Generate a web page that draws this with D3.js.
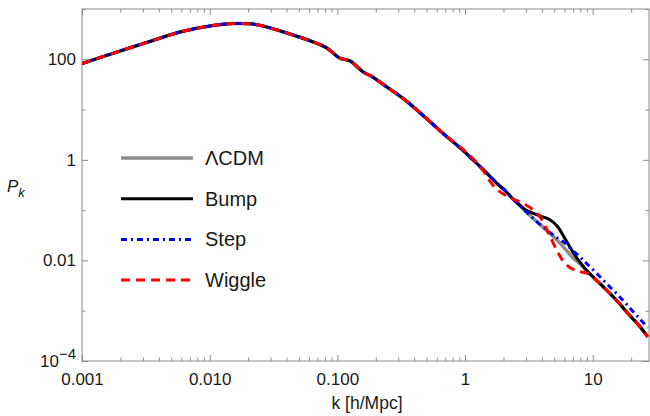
<!DOCTYPE html>
<html>
<head>
<meta charset="utf-8">
<title>P_k</title>
<script src="https://cdn.jsdelivr.net/npm/d3@7"></script>
<style>
  body { margin: 0; background: #fff; }
  svg { font-family: "Liberation Sans", Arial, sans-serif; }
  .tick text { fill: #1a1a1a; font-size: 17px; }
  .tick line { stroke: #8a8a8a; }
</style>
</head>
<body>
<script>
// wavenumbers k [h/Mpc]
var kVals = [0.001, 0.00175, 0.00323, 0.00585, 0.0106, 0.0152, 0.0207, 0.0248, 0.0375, 0.0692,
  0.083, 0.1047, 0.1255, 0.159, 0.19, 0.244, 0.326, 0.468, 0.672, 0.964,
  1.155, 1.383, 1.57, 1.78, 2.057, 2.334, 2.7, 3.0, 3.4, 3.9,
  4.6, 5.3, 6.0, 7.0, 8.0, 9.0, 11, 13, 16, 19, 23, 27];

var pLCDM = [81.9, 131.4, 216.8, 347.8, 468.8, 513.8, 506.8, 473.2, 352.7, 207.0,
  166.9, 105.4, 93.1, 56.2, 44.1, 28.2, 16.8, 7.69, 3.37, 1.54,
  0.998, 0.645, 0.468, 0.339, 0.246, 0.174, 0.1236, 0.0938, 0.0695, 0.0509,
  0.0348, 0.0248, 0.01754, 0.01135, 0.00842, 0.00625, 0.00377, 0.00249, 0.00144, 0.000867, 0.000512, 0.000302];

var pBump = [81.9, 131.4, 216.8, 347.8, 468.8, 513.8, 506.8, 473.2, 352.7, 207.0,
  166.9, 105.4, 93.1, 56.2, 44.1, 28.2, 16.8, 7.69, 3.37, 1.54,
  0.998, 0.645, 0.468, 0.339, 0.246, 0.174, 0.1236, 0.1005, 0.0875, 0.0762,
  0.065, 0.0471, 0.0284, 0.01459, 0.00902, 0.00625, 0.00377, 0.00249, 0.00144, 0.000867, 0.000512, 0.000302];

var pStep = [81.9, 131.4, 216.8, 347.8, 468.8, 513.8, 506.8, 473.2, 352.7, 207.0,
  166.9, 105.4, 93.1, 56.2, 44.1, 28.2, 16.8, 7.69, 3.37, 1.54,
  0.998, 0.645, 0.468, 0.339, 0.246, 0.174, 0.1236, 0.0938, 0.0695, 0.0509,
  0.0366, 0.0278, 0.0226, 0.01564, 0.01161, 0.00861, 0.0052, 0.00336, 0.00198, 0.001225, 0.000722, 0.000456];

var pWiggle = [81.9, 131.4, 216.8, 347.8, 468.8, 513.8, 506.8, 473.2, 352.7, 207.0,
  166.9, 105.4, 93.1, 56.2, 44.1, 28.2, 16.8, 7.69, 3.37, 1.61,
  1.045, 0.616, 0.372, 0.258, 0.2, 0.17, 0.145, 0.1264, 0.1028, 0.0711,
  0.0311, 0.01493, 0.00902, 0.00668, 0.00597, 0.00557, 0.00377, 0.00249, 0.00144, 0.000867, 0.000512, 0.000302];

var seriesNames = ["\u039bCDM", "Bump", "Step", "Wiggle"];

var xMajor = [0.001, 0.01, 0.1, 1, 10];
var xMajorLabels = ["0.001", "0.010", "0.100", "1", "10"];
var yMajor = [1e-4, 0.01, 1, 100];
var yMajorLabels = ["10-4", "0.01", "1", "100"];
var yMinor = [0.001, 0.1, 10, 1000];

var width = 650, height = 416,
    mLeft = 82, mRight = 649, mTop = 9, mBottom = 361;

var x = d3.scaleLog().domain([0.001, 27.6]).range([mLeft, mRight]);
var y = d3.scaleLog().domain([1e-4, 1e3]).range([mBottom, mTop]);

var xMinor = [];
[0.001, 0.01, 0.1, 1, 10].forEach(function(d){
    for (var i = 2; i <= 9; i++) { if (d * i < 27.6) xMinor.push(d * i); }
});

var styles = [
    {color: "#8c8c8c", w: 3.5, dash: null},
    {color: "#000000", w: 3, dash: null},
    {color: "#0000ff", w: 3, dash: "6,4,2,4"},
    {color: "#ff0000", w: 3, dash: "9,6"}
];
var seriesVals = [pLCDM, pBump, pStep, pWiggle];

var series = seriesNames.map(function(name, i){
    return {name: name, style: styles[i],
        values: kVals.map(function(k, j){ return {k: k, p: seriesVals[i][j]}; })};
});

var svg = d3.select("body").append("svg")
    .attr("width", width)
    .attr("height", height);

svg.append("defs").append("clipPath").attr("id", "clip")
    .append("rect")
    .attr("x", mLeft).attr("y", mTop)
    .attr("width", mRight - mLeft).attr("height", mBottom - mTop);

// axes (ticks point inwards)
function noDomain(g){ g.select(".domain").remove(); }

svg.append("g").attr("transform", "translate(0," + mBottom + ")")
    .call(d3.axisBottom(x).tickValues(xMajor).tickSize(-6).tickPadding(12)
        .tickFormat(function(d, i){ return xMajorLabels[i]; }))
    .call(noDomain);
svg.append("g").attr("transform", "translate(0," + mBottom + ")")
    .call(d3.axisBottom(x).tickValues(xMinor).tickSize(-3.5).tickFormat(""))
    .call(noDomain);
svg.append("g").attr("transform", "translate(0," + mTop + ")")
    .call(d3.axisTop(x).tickValues(xMajor).tickSize(-6).tickFormat(""))
    .call(noDomain);
svg.append("g").attr("transform", "translate(0," + mTop + ")")
    .call(d3.axisTop(x).tickValues(xMinor).tickSize(-3.5).tickFormat(""))
    .call(noDomain);

var yAx = svg.append("g").attr("transform", "translate(" + mLeft + ",0)")
    .call(d3.axisLeft(y).tickValues(yMajor).tickSize(-6).tickPadding(6)
        .tickFormat(function(d, i){ return yMajorLabels[i]; }))
    .call(noDomain);
svg.append("g").attr("transform", "translate(" + mLeft + ",0)")
    .call(d3.axisLeft(y).tickValues(yMinor).tickSize(-3.5).tickFormat(""))
    .call(noDomain);
svg.append("g").attr("transform", "translate(" + mRight + ",0)")
    .call(d3.axisRight(y).tickValues(yMajor).tickSize(-6).tickFormat(""))
    .call(noDomain);
svg.append("g").attr("transform", "translate(" + mRight + ",0)")
    .call(d3.axisRight(y).tickValues(yMinor).tickSize(-3.5).tickFormat(""))
    .call(noDomain);

// 10^-4 label with superscript
var t4 = yAx.selectAll(".tick text").filter(function(d){ return d === 1e-4; });
t4.text(null);
t4.append("tspan").text("10");
t4.append("tspan").attr("dy", "-0.5em").attr("font-size", "15px").text("\u22124");

// frame
svg.append("rect")
    .attr("x", mLeft).attr("y", mTop)
    .attr("width", mRight - mLeft).attr("height", mBottom - mTop)
    .attr("fill", "none").attr("stroke", "#8a8a8a").attr("stroke-width", 1);

// curves
var line = d3.line()
    .curve(d3.curveCatmullRom.alpha(0.5))
    .x(function(d){ return x(d.k); })
    .y(function(d){ return y(d.p); });

svg.append("g").attr("clip-path", "url(#clip)")
    .selectAll("path")
    .data(series)
    .enter().append("path")
    .attr("d", function(d){ return line(d.values); })
    .attr("fill", "none")
    .attr("stroke", function(d){ return d.style.color; })
    .attr("stroke-width", function(d){ return d.style.w; })
    .attr("stroke-dasharray", function(d){ return d.style.dash; });

// legend
var leg = svg.append("g").selectAll("g")
    .data(series)
    .enter().append("g")
    .attr("transform", function(d, i){ return "translate(121," + (158 + i * 40.7) + ")"; });
leg.append("line")
    .attr("x1", 0).attr("x2", 72)
    .attr("stroke", function(d){ return d.style.color; })
    .attr("stroke-width", function(d){ return d.style.w; })
    .attr("stroke-dasharray", function(d){ return d.style.dash; });
leg.append("text")
    .attr("x", 84).attr("dy", "0.35em")
    .attr("font-size", "20px").attr("fill", "#1a1a1a")
    .text(function(d){ return d.name; });

// axis labels
svg.append("text")
    .attr("x", 367).attr("y", 409)
    .attr("text-anchor", "middle")
    .attr("font-size", "17.5px").attr("fill", "#1a1a1a")
    .text("k [h/Mpc]");

var pl = svg.append("text")
    .attr("x", 7).attr("y", 192)
    .attr("font-size", "17px").attr("font-style", "italic").attr("fill", "#1a1a1a");
pl.append("tspan").text("P");
pl.append("tspan").attr("dy", "5").attr("font-size", "13px").text("k");
</script>
</body>
</html>
